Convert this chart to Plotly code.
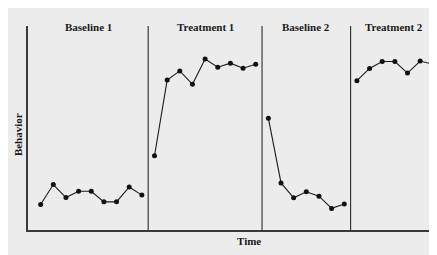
import plotly.graph_objects as go

# Phase data (behavior on an arbitrary 0-100 scale, sessions numbered consecutively)
phase_names = ["Baseline 1", "Treatment 1", "Baseline 2", "Treatment 2"]
baseline1 = [12.5, 22.3, 15.9, 19.0, 19.0, 13.8, 13.8, 21.1, 17.1]
treatment1 = [36.4, 73.5, 78.0, 71.4, 83.8, 79.8, 81.8, 79.3, 81.3]
baseline2 = [54.8, 23.1, 15.8, 18.7, 16.6, 10.6, 12.7]
treatment2 = [73.2, 79.2, 82.6, 82.6, 76.9, 82.8, 81.3]

phases = [baseline1, treatment1, baseline2, treatment2]
x_max = 32.33

fig = go.Figure()
start = 1
bounds = [0]
for vals in phases:
    xs = list(range(start, start + len(vals)))
    fig.add_trace(go.Scatter(
        x=xs, y=vals, mode="lines+markers",
        line=dict(color="#1a1a1a", width=1.1),
        marker=dict(color="#111111", size=5),
        showlegend=False, hoverinfo="skip"))
    start += len(vals)
    bounds.append(start - 0.5)
bounds[-1] = x_max

ink = "#1a1a1a"
# phase change lines
for b in bounds[1:-1]:
    fig.add_shape(type="line", xref="x", yref="paper", x0=b, x1=b, y0=0, y1=1,
                  line=dict(color="#2a2a2a", width=1.1))

# phase labels
for name, a, b in zip(phase_names, bounds[:-1], bounds[1:]):
    fig.add_annotation(text="<b>%s</b>" % name, x=(a + b) / 2, xref="x",
                       y=1, yref="paper", yanchor="middle", yshift=-1,
                       showarrow=False, font=dict(family="Liberation Serif", size=11, color=ink))

fig.add_annotation(text="<b>Behavior</b>", x=0, xref="paper", xanchor="right", xshift=-2,
                   y=0.47, yref="paper", textangle=-90, showarrow=False,
                   font=dict(family="Liberation Serif", size=11, color=ink))
fig.add_annotation(text="<b>Time</b>", x=17.5, xref="x", y=0, yref="paper",
                   yanchor="top", yshift=-3, showarrow=False,
                   font=dict(family="Liberation Serif", size=11, color=ink))

fig.update_layout(
    width=429, height=247,
    margin=dict(l=20, r=0, t=18, b=25),
    paper_bgcolor="#ececec", plot_bgcolor="#ececec",
    xaxis=dict(range=[0, x_max], showgrid=False, zeroline=False, showticklabels=False,
               ticks="", showline=True, linecolor="#3a3a3a", linewidth=1.5),
    yaxis=dict(range=[0, 100], showgrid=False, zeroline=False, showticklabels=False,
               ticks="", showline=True, linecolor="#3a3a3a", linewidth=1.5),
)
fig.write_html("out.html")
